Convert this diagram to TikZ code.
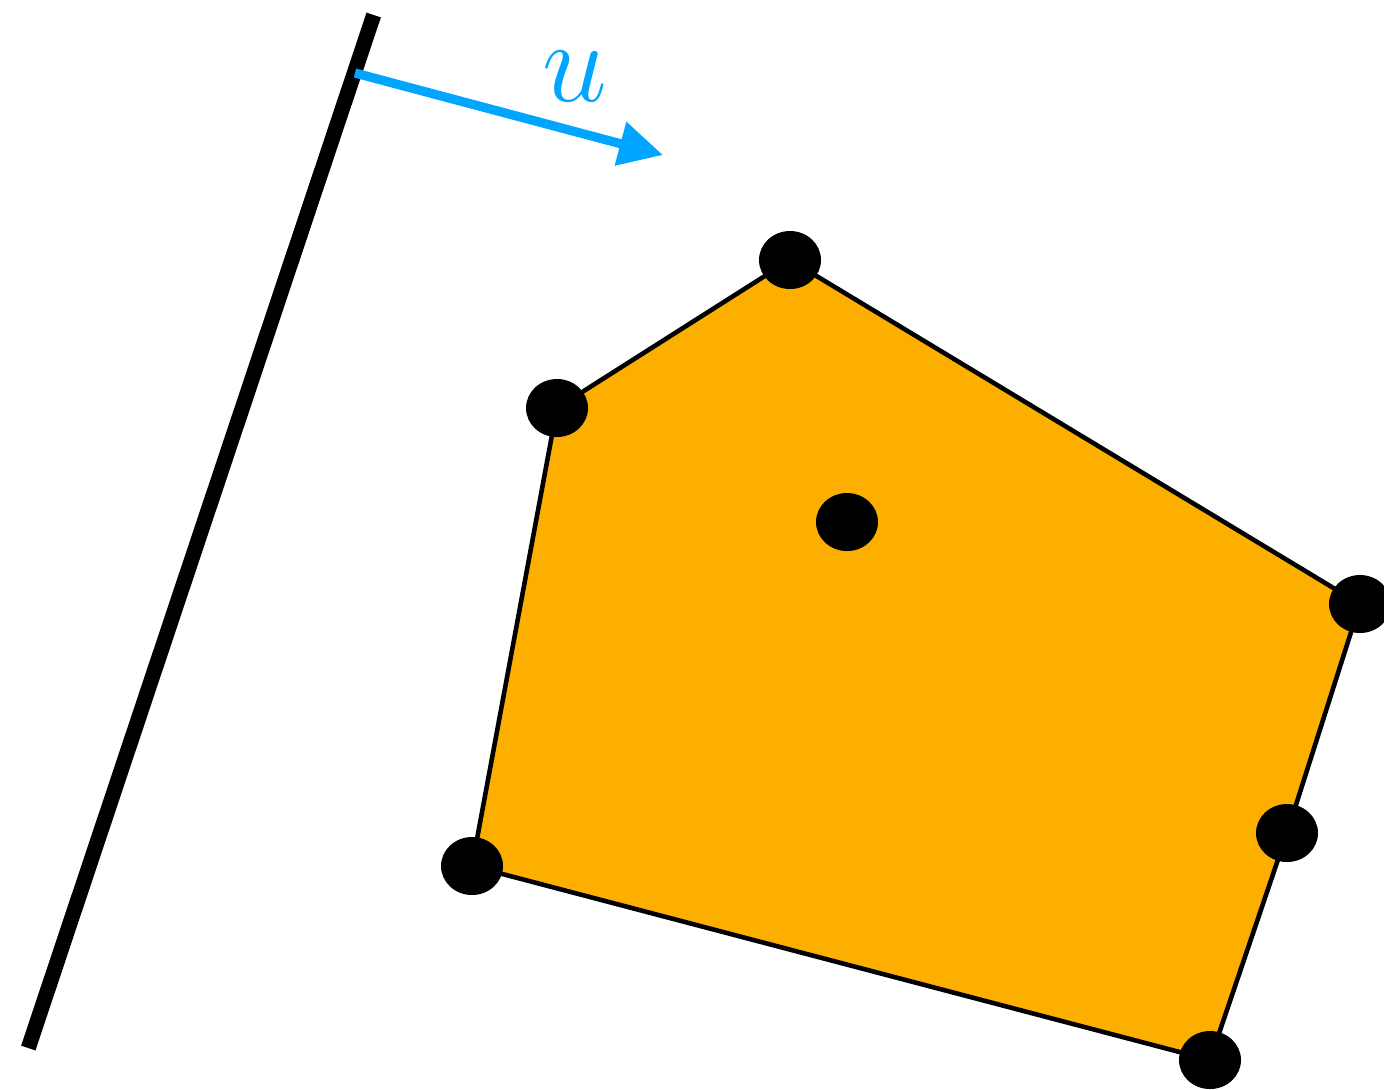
\documentclass[tikz,border=0pt]{standalone}
\usepackage{graphicx}
\usetikzlibrary{arrows.meta}
\definecolor{hullorange}{RGB}{253,175,0}
\definecolor{dirblue}{RGB}{0,165,255}
\begin{document}
\begin{tikzpicture}[x=0.1mm,y=-0.1mm,>={Triangle[length=4.4mm,width=4.3mm]},
    vertex/.style={fill=black},
    edge/.style={draw=black,line width=1.3pt}]
  \clip (0,0) rectangle (1384,1089);
  \coordinate (a) at (790,260);
  \coordinate (b) at (1360,604);
  \coordinate (c) at (1287,833);
  \coordinate (d) at (1210,1060);
  \coordinate (e) at (472,866);
  \coordinate (f) at (557,408);
  \coordinate (g) at (847,522);
  \coordinate (top) at (373.7,15);
  \coordinate (bot) at (28.3,1048);
  \coordinate (ustart) at (355,73);
  \coordinate (uend) at (663,155);
  \draw[line width=4.3pt] (bot) -- (top);
  \draw[dirblue,line width=2.6pt,->] (ustart) -- (uend);
  \node[dirblue,anchor=base,inner sep=0] (u) at (575,101) {\scalebox{1.33}{\Huge$u$}};
  \filldraw[fill=hullorange,edge] (a) -- (b) -- (c) -- (d) -- (e) -- (f) -- cycle;
  \foreach \p in {a,b,c,d,e,f,g}
    \fill[vertex] (\p) ellipse [x radius=31,y radius=29];
\end{tikzpicture}
\end{document}
